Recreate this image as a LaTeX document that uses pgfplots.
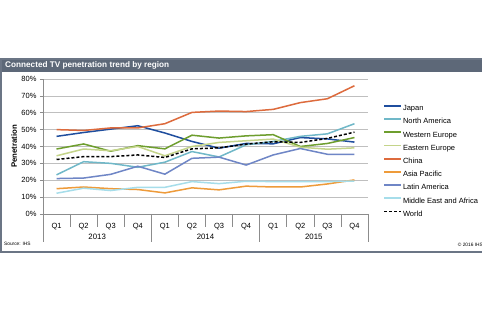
\documentclass[border=0pt]{standalone}
\usepackage{fontspec}
\setmainfont{Liberation Sans}
\usepackage{pgfplots}
\pgfplotsset{compat=1.18}
\definecolor{titlebar}{HTML}{5D6878}
\definecolor{panelborder}{HTML}{6B7585}
\definecolor{gridgray}{HTML}{BFBFBF}
\definecolor{axisgray}{HTML}{8C8C8C}
\definecolor{cJapan}{HTML}{1F4E9E}
\definecolor{cNA}{HTML}{70B8C8}
\definecolor{cWE}{HTML}{6E9E2E}
\definecolor{cEE}{HTML}{C4D48A}
\definecolor{cChina}{HTML}{DD6B3D}
\definecolor{cAP}{HTML}{EE9B3A}
\definecolor{cLA}{HTML}{6F86C6}
\definecolor{cMEA}{HTML}{A6DDEA}
\begin{document}
\begin{tikzpicture}
\useasboundingbox (0pt,0pt) rectangle (482pt,321pt);
\fill[white] (0pt,0pt) rectangle (482pt,321pt);
\fill[titlebar] (1pt,249pt) rectangle (483pt,262pt);
\draw[panelborder, line width=1.2pt] (483pt,69pt) -- (1pt,69pt) -- (1pt,262pt) -- (483pt,262pt);
\node[anchor=west, text=white, font=\bfseries\fontsize{8.2}{9}\selectfont, inner sep=0pt] at (5pt,255.5pt) {Connected TV penetration trend by region};
\node[anchor=west, font=\fontsize{4.8}{6}\selectfont, inner sep=0pt] at (4pt,77pt) {Source: IHS};
\node[anchor=east, font=\fontsize{4.8}{6}\selectfont, inner sep=0pt] at (483pt,76pt) {© 2016 IHS};
\begin{axis}[
  at={(43pt,107pt)}, anchor=south west, scale only axis,
  width=325pt, height=135pt,
  xmin=0.5, xmax=12.5, ymin=0, ymax=80,
  axis x line*=bottom, axis y line*=left,
  axis line style={draw=axisgray, line width=0.6pt},
  ytick={0,10,...,80}, yticklabel={\pgfmathprintnumber{\tick}\%},
  ymajorgrids, grid style={draw=gridgray, line width=0.6pt},
  xtick={1,...,12}, xticklabels={Q1,Q2,Q3,Q4,Q1,Q2,Q3,Q4,Q1,Q2,Q3,Q4},
  major tick length=3pt, tick align=outside,
  x tick style={draw=none}, y tick style={draw=axisgray, line width=0.6pt},
  tick label style={font=\fontsize{7.5}{9}\selectfont},
  /pgf/number format/assume math mode=true,
  xticklabel style={yshift=-3pt},
  clip=false,
  ylabel={Penetration},
  every axis y label/.style={at={(axis description cs:-0.089,0.5)}, rotate=90, anchor=center},
  ylabel style={font=\bfseries\fontsize{7.8}{9}\selectfont},
  legend style={at={(1,1)}, anchor=north west, xshift=15pt, yshift=-25pt,
    draw=none, fill=none, inner sep=0pt, font=\fontsize{7.5}{9}\selectfont,
    row sep=4.2pt, column sep=0pt,
    nodes={inner sep=1pt, text height=5.5pt, text depth=1.5pt}},
  legend cell align=left,
  legend image code/.code={\draw[line width=1.8pt, #1] (0pt,2.7pt) -- (17pt,2.7pt);},
]
\addplot[cJapan, line width=1.5pt] coordinates {(1,46) (2,48.3) (3,50.3) (4,52.3) (5,48) (6,43) (7,39) (8,41.8) (9,41.6) (10,45.3) (11,44.5) (12,42.6)};
\addlegendentry{Japan}
\addplot[cNA, line width=1.5pt] coordinates {(1,23.2) (2,31) (3,30) (4,27.7) (5,30.7) (6,37) (7,33.8) (8,41) (9,43) (10,46) (11,47.5) (12,53.5)};
\addlegendentry{North America}
\addplot[cWE, line width=1.5pt] coordinates {(1,38.5) (2,41.5) (3,37.2) (4,40.5) (5,38.6) (6,46.7) (7,45) (8,46.3) (9,47) (10,40) (11,41.8) (12,45.3)};
\addlegendentry{Western Europe}
\addplot[cEE, line width=1.5pt] coordinates {(1,34.5) (2,38.5) (3,37.5) (4,40) (5,34.5) (6,40) (7,42.4) (8,43.4) (9,44.4) (10,39.6) (11,38.4) (12,39.2)};
\addlegendentry{Eastern Europe}
\addplot[cChina, line width=1.5pt] coordinates {(1,50) (2,49.5) (3,51) (4,51) (5,53.5) (6,60.2) (7,61) (8,60.7) (9,62) (10,66) (11,68.3) (12,76)};
\addlegendentry{China}
\addplot[cAP, line width=1.5pt] coordinates {(1,15) (2,16) (3,15) (4,14.5) (5,12.5) (6,15.5) (7,14.3) (8,16.5) (9,16) (10,16) (11,17.8) (12,20.2)};
\addlegendentry{Asia Pacific}
\addplot[cLA, line width=1.5pt] coordinates {(1,21) (2,21.3) (3,23.5) (4,28.3) (5,23.6) (6,33) (7,33.7) (8,29) (9,35) (10,38.8) (11,35.4) (12,35.4)};
\addlegendentry{Latin America}
\addplot[cMEA, line width=1.5pt] coordinates {(1,12.3) (2,15.3) (3,13.9) (4,15.8) (5,15.8) (6,19.2) (7,18) (8,19.4) (9,19.2) (10,19.2) (11,19.2) (12,19.5)};
\addlegendentry{Middle East and Africa}
\addplot[black, line width=1.5pt, dash pattern=on 3pt off 2pt] coordinates {(1,32.3) (2,34) (3,34) (4,35) (5,33.5) (6,38.6) (7,39.2) (8,41.4) (9,42.8) (10,42.4) (11,44.8) (12,48.5)};
\addlegendentry{World}
% category separators
\draw[axisgray, line width=0.6pt] (axis cs:0.5,0) -- ++(0pt,-28pt);
\draw[axisgray, line width=0.6pt] (axis cs:4.5,0) -- ++(0pt,-28pt);
\draw[axisgray, line width=0.6pt] (axis cs:8.5,0) -- ++(0pt,-28pt);
\draw[axisgray, line width=0.6pt] (axis cs:12.5,0) -- ++(0pt,-28pt);
\draw[axisgray, line width=0.6pt] (axis cs:1.5,0) -- ++(0pt,-13pt);
\draw[axisgray, line width=0.6pt] (axis cs:2.5,0) -- ++(0pt,-13pt);
\draw[axisgray, line width=0.6pt] (axis cs:3.5,0) -- ++(0pt,-13pt);
\draw[axisgray, line width=0.6pt] (axis cs:5.5,0) -- ++(0pt,-13pt);
\draw[axisgray, line width=0.6pt] (axis cs:6.5,0) -- ++(0pt,-13pt);
\draw[axisgray, line width=0.6pt] (axis cs:7.5,0) -- ++(0pt,-13pt);
\draw[axisgray, line width=0.6pt] (axis cs:9.5,0) -- ++(0pt,-13pt);
\draw[axisgray, line width=0.6pt] (axis cs:10.5,0) -- ++(0pt,-13pt);
\draw[axisgray, line width=0.6pt] (axis cs:11.5,0) -- ++(0pt,-13pt);
\node[font=\fontsize{7.8}{9}\selectfont] at (axis cs:2.5,0) [yshift=-23pt] {2013};
\node[font=\fontsize{7.8}{9}\selectfont] at (axis cs:6.5,0) [yshift=-23pt] {2014};
\node[font=\fontsize{7.8}{9}\selectfont] at (axis cs:10.5,0) [yshift=-23pt] {2015};
\end{axis}
\end{tikzpicture}
\end{document}
